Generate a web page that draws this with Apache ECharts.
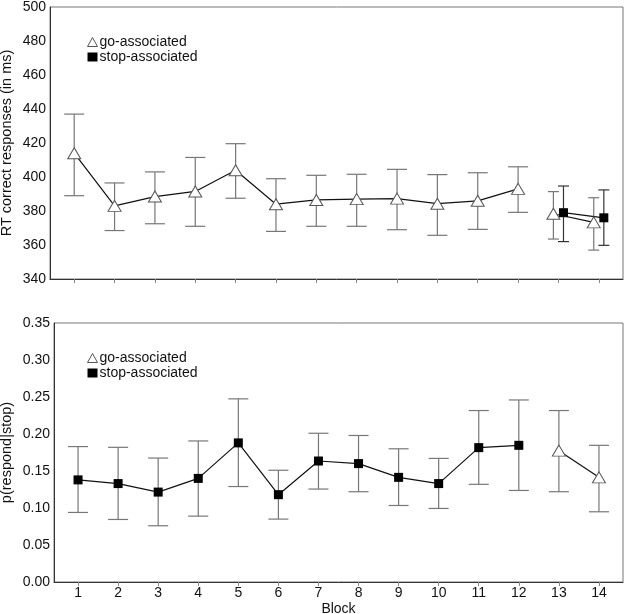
<!DOCTYPE html>
<html>
<head>
<meta charset="utf-8">
<script src="https://cdn.jsdelivr.net/npm/echarts@6/dist/echarts.min.js"></script>
<style>
html, body { margin: 0; padding: 0; background: #fff; }
#main { width: 625px; height: 614px; }
</style>
</head>
<body>
<div id="main"></div>
<script>
// 数据
var blocks = [1, 2, 3, 4, 5, 6, 7, 8, 9, 10, 11, 12, 13, 14];

// RT correct responses (in ms)
var rtGoMean  = [414, 383, 388.5, 391.5, 404, 384, 386.5, 387, 387.3, 384.3, 386, 393, 378.4, 373.3];
var rtGoUpper = [437, 396.5, 403, 411.5, 419.6, 399, 401, 401.6, 404.5, 401.4, 402.5, 406, 391.4, 387.8];
var rtGoLower = [389, 368.5, 372.5, 371, 387.5, 368, 371, 371, 369, 365.7, 369.2, 379.2, 363.5, 357];
var rtStopMean  = [null, null, null, null, null, null, null, null, null, null, null, null, 379, 376];
var rtStopUpper = [null, null, null, null, null, null, null, null, null, null, null, null, 394.7, 392.4];
var rtStopLower = [null, null, null, null, null, null, null, null, null, null, null, null, 362, 359.8];

// p(respond|stop)
var pGoMean  = [null, null, null, null, null, null, null, null, null, null, null, null, 0.1775, 0.1414];
var pGoUpper = [null, null, null, null, null, null, null, null, null, null, null, null, 0.2317, 0.1847];
var pGoLower = [null, null, null, null, null, null, null, null, null, null, null, null, 0.122, 0.0949];
var pStopMean  = [0.138, 0.133, 0.1215, 0.140, 0.188, 0.118, 0.1635, 0.160, 0.1414, 0.133, 0.1816, 0.1847, null, null];
var pStopUpper = [0.183, 0.182, 0.1675, 0.1906, 0.2475, 0.151, 0.201, 0.198, 0.180, 0.167, 0.2317, 0.246, null, null];
var pStopLower = [0.094, 0.0845, 0.076, 0.089, 0.129, 0.085, 0.1256, 0.122, 0.1034, 0.0994, 0.132, 0.1237, null, null];

var GO = 'go-associated';
var STOP = 'stop-associated';
var FONT = 'Liberation Sans, Arial, sans-serif';

// 两组都有值时左右错开
function shift(means, other, side) {
    return blocks.map(function (b, i) {
        if (means[i] == null || other[i] == null) return 0;
        return side * 0.125;
    });
}

function linePoints(means, offs) {
    var pts = [];
    for (var i = 0; i < blocks.length; i++) {
        if (means[i] == null) { pts.push([blocks[i], '-']); continue; }
        if (i > 0 && means[i - 1] != null && offs[i] !== offs[i - 1]) {
            pts.push([blocks[i] - 0.5, '-']);
        }
        pts.push([blocks[i] + offs[i], means[i]]);
    }
    return pts;
}

function barPoints(lower, upper, offs) {
    var pts = [];
    for (var i = 0; i < blocks.length; i++) {
        if (lower[i] == null) continue;
        pts.push([blocks[i] + offs[i], lower[i], upper[i], offs[i] !== 0 ? 11 : 20]);
    }
    return pts;
}

function errorSeries(idx, lower, upper, offs, color) {
    return {
        type: 'custom',
        xAxisIndex: idx,
        yAxisIndex: idx,
        silent: true,
        z: 1,
        data: barPoints(lower, upper, offs),
        renderItem: function (params, api) {
            var lo = api.coord([api.value(0), api.value(1)]);
            var hi = api.coord([api.value(0), api.value(2)]);
            var w = api.value(3) / 2;
            var st = { stroke: color, lineWidth: 1.2 };
            return {
                type: 'group',
                children: [
                    { type: 'line', shape: { x1: lo[0], y1: lo[1], x2: hi[0], y2: hi[1] }, style: st },
                    { type: 'line', shape: { x1: lo[0] - w, y1: lo[1], x2: lo[0] + w, y2: lo[1] }, style: st },
                    { type: 'line', shape: { x1: hi[0] - w, y1: hi[1], x2: hi[0] + w, y2: hi[1] }, style: st }
                ]
            };
        }
    };
}

function meanSeries(idx, name, pts, isGo) {
    return {
        name: name,
        type: 'line',
        xAxisIndex: idx,
        yAxisIndex: idx,
        data: pts,
        connectNulls: false,
        z: 3,
        symbol: isGo ? 'triangle' : 'rect',
        symbolSize: isGo ? [13, 11] : 9,
        lineStyle: { color: '#111', width: 1.2 },
        itemStyle: isGo ? { color: '#fff', borderColor: '#555', borderWidth: 1 }
                        : { color: '#000', borderColor: '#000', borderWidth: 0 }
    };
}

var rtGoOff = shift(rtGoMean, rtStopMean, -1);
var rtStopOff = shift(rtStopMean, rtGoMean, 1);
var pGoOff = shift(pGoMean, pStopMean, -1);
var pStopOff = shift(pStopMean, pGoMean, 1);

function xAxisCfg(idx, showLabels) {
    return {
        type: 'value',
        gridIndex: idx,
        min: 0.4,
        max: 14.6,
        name: showLabels ? 'Block' : '',
        nameLocation: 'middle',
        nameGap: 20,
        nameMoveOverlap: false,
        nameTextStyle: { fontFamily: FONT, fontSize: 14, color: '#111' },
        splitLine: { show: false },
        axisLine: { lineStyle: { color: '#333', width: 1 } },
        axisTick: { show: true, customValues: blocks, length: 4, lineStyle: { color: '#888' } },
        axisLabel: { show: showLabels, customValues: blocks, fontFamily: FONT, fontSize: 14, color: '#111', margin: 4 }
    };
}

function legendCfg(top) {
    return {
        orient: 'vertical',
        left: 82,
        top: top,
        itemWidth: 10,
        itemHeight: 9,
        itemGap: 1,
        selectedMode: false,
        textStyle: { fontFamily: FONT, fontSize: 14, color: '#111', padding: [0, 0, 0, -3] },
        data: [
            { name: GO, icon: 'triangle', itemStyle: { color: '#fff', borderColor: '#555', borderWidth: 1 } },
            { name: STOP, icon: 'rect', itemStyle: { color: '#000', borderWidth: 0 } }
        ]
    };
}

var chart = echarts.init(document.getElementById('main'));
chart.setOption({
    backgroundColor: '#fff',
    animation: false,
    legend: [legendCfg(30), legendCfg(346)],
    grid: [
        { left: 50, right: 2, top: 7, height: 272, show: true, borderColor: '#777', borderWidth: 1, outerBoundsMode: 'none', containLabel: false },
        { left: 54, right: 2, top: 323, height: 259, show: true, borderColor: '#777', borderWidth: 1, outerBoundsMode: 'none', containLabel: false }
    ],
    xAxis: [xAxisCfg(0, false), xAxisCfg(1, true)],
    yAxis: [
        {
            type: 'value',
            gridIndex: 0,
            min: 340,
            max: 500,
            interval: 20,
            name: 'RT correct responses (in ms)',
            nameLocation: 'middle',
            nameGap: 36,
            nameMoveOverlap: false,
            nameTextStyle: { fontFamily: FONT, fontSize: 14.5, color: '#111' },
            splitLine: { show: false },
            axisLine: { show: true, lineStyle: { color: '#333' } },
            axisTick: { show: false },
            axisLabel: { fontFamily: FONT, fontSize: 14, color: '#111', margin: 4 }
        },
        {
            type: 'value',
            gridIndex: 1,
            min: 0,
            max: 0.35,
            interval: 0.05,
            name: 'p(respond|stop)',
            nameLocation: 'middle',
            nameGap: 40,
            nameMoveOverlap: false,
            nameTextStyle: { fontFamily: FONT, fontSize: 14.5, color: '#111' },
            splitLine: { show: false },
            axisLine: { show: true, lineStyle: { color: '#333' } },
            axisTick: { show: false },
            axisLabel: {
                fontFamily: FONT, fontSize: 14, color: '#111', margin: 4,
                formatter: function (v) { return v.toFixed(2); }
            }
        }
    ],
    series: [
        errorSeries(0, rtGoLower, rtGoUpper, rtGoOff, '#777'),
        errorSeries(0, rtStopLower, rtStopUpper, rtStopOff, '#333'),
        meanSeries(0, GO, linePoints(rtGoMean, rtGoOff), true),
        meanSeries(0, STOP, linePoints(rtStopMean, rtStopOff), false),
        errorSeries(1, pGoLower, pGoUpper, pGoOff, '#777'),
        errorSeries(1, pStopLower, pStopUpper, pStopOff, '#777'),
        meanSeries(1, GO, linePoints(pGoMean, pGoOff), true),
        meanSeries(1, STOP, linePoints(pStopMean, pStopOff), false)
    ]
});
</script>
</body>
</html>
